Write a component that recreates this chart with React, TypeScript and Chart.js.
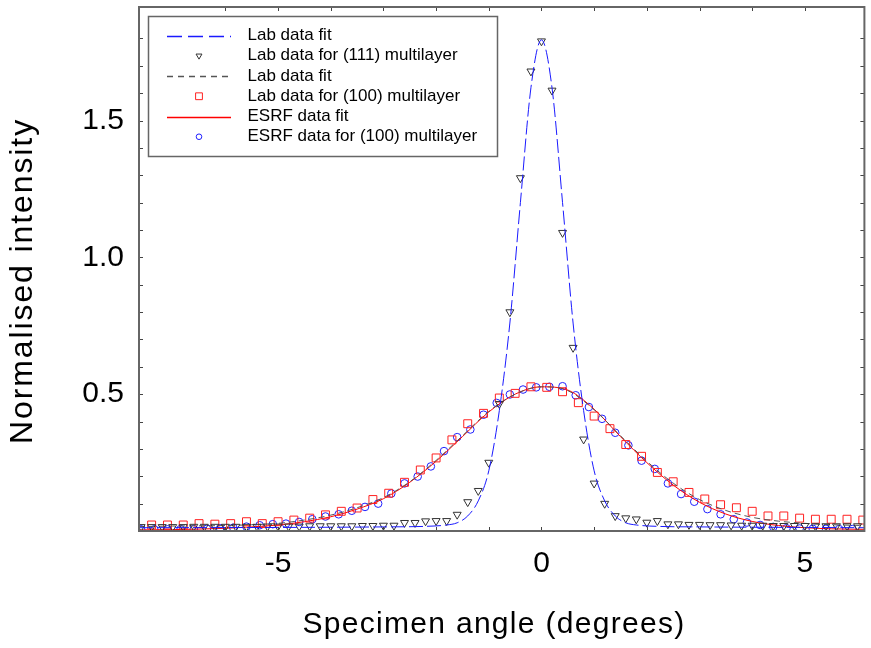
import React, { useEffect, useRef } from 'react';
import { Chart, registerables } from 'chart.js';

Chart.register(...registerables);

const FONT = '"Liberation Sans", Arial, Helvetica, sans-serif';

// Axis ranges and tick labels
const X_MIN = -7.64;
const X_MAX = 6.13;
const Y_MIN = 0;
const Y_MAX = 1.915;
const X_LABELED = [-5, 0, 5];
const Y_LABELED = ['0.5', '1.0', '1.5'];

const X_TITLE = 'Specimen angle (degrees)';
const Y_TITLE = 'Normalised intensity';

// Lab data for (111) multilayer (triangles)
const triX = [
  -7.6, -7.4, -7.2, -7.0, -6.8, -6.6, -6.4, -6.2, -6.0, -5.8, -5.6, -5.4, -5.2, -5.0,
  -4.8, -4.6, -4.4, -4.2, -4.0, -3.8, -3.6, -3.4, -3.2, -3.0, -2.8, -2.6, -2.4, -2.2,
  -2.0, -1.8, -1.6, -1.4, -1.2, -1.0, -0.8, -0.6, -0.4, -0.2, 0.0, 0.2, 0.4, 0.6,
  0.8, 1.0, 1.2, 1.4, 1.6, 1.8, 2.0, 2.2, 2.4, 2.6, 2.8, 3.0, 3.2, 3.4, 3.6, 3.8,
  4.0, 4.2, 4.4, 4.6, 4.8, 5.0, 5.2, 5.4, 5.6, 5.8, 6.0,
];
const triY = [
  0.015, 0.015, 0.015, 0.015, 0.015, 0.016, 0.016, 0.016, 0.016, 0.016, 0.016, 0.016, 0.017, 0.017,
  0.017, 0.017, 0.018, 0.018, 0.018, 0.018, 0.018, 0.019, 0.019, 0.02, 0.02, 0.03, 0.03, 0.036,
  0.037, 0.037, 0.06, 0.106, 0.147, 0.25, 0.465, 0.8, 1.29, 1.68, 1.79, 1.61, 1.09, 0.67,
  0.335, 0.174, 0.1, 0.055, 0.047, 0.043, 0.031, 0.037, 0.025, 0.025, 0.023, 0.023, 0.022, 0.022, 0.021, 0.02,
  0.02, 0.02, 0.019, 0.019, 0.019, 0.019, 0.018, 0.018, 0.018, 0.018, 0.018,
];

// Lab data for (100) multilayer (squares)
const sqX = [
  -7.4, -7.1, -6.8, -6.5, -6.2, -5.9, -5.6, -5.3, -5.0, -4.7, -4.4, -4.1, -3.8, -3.5,
  -3.2, -2.9, -2.6, -2.3, -2.0, -1.7, -1.4, -1.1, -0.8, -0.5, -0.2, 0.1, 0.4, 0.7,
  1.0, 1.3, 1.6, 1.9, 2.2, 2.5, 2.8, 3.1, 3.4, 3.7, 4.0, 4.3, 4.6, 4.9, 5.2, 5.5,
  5.8, 6.1,
];
const sqY = [
  0.022, 0.022, 0.022, 0.027, 0.025, 0.027, 0.034, 0.027, 0.034, 0.04, 0.047, 0.059, 0.072, 0.084,
  0.115, 0.138, 0.178, 0.223, 0.267, 0.333, 0.392, 0.43, 0.486, 0.503, 0.527, 0.525, 0.509, 0.469,
  0.42, 0.374, 0.316, 0.273, 0.214, 0.18, 0.141, 0.117, 0.096, 0.085, 0.072, 0.055, 0.055, 0.047, 0.043, 0.043,
  0.043, 0.04,
];

// ESRF data for (100) multilayer (circles)
const ciX = [
  -7.6, -7.35, -7.1, -6.85, -6.6, -6.35, -6.1, -5.85, -5.6, -5.35, -5.1, -4.85, -4.6, -4.35,
  -4.1, -3.85, -3.6, -3.35, -3.1, -2.85, -2.6, -2.35, -2.1, -1.85, -1.6, -1.35, -1.1, -0.85,
  -0.6, -0.35, -0.1, 0.15, 0.4, 0.65, 0.9, 1.15, 1.4, 1.65, 1.9, 2.15, 2.4, 2.65,
  2.9, 3.15, 3.4, 3.65, 3.9, 4.15, 4.4, 4.65, 4.9, 5.15, 5.4, 5.65, 5.9,
];
const ciY = [
  0.006, 0.006, 0.006, 0.007, 0.007, 0.008, 0.01, 0.012, 0.016, 0.021, 0.025, 0.027, 0.033, 0.043,
  0.053, 0.061, 0.074, 0.088, 0.1, 0.137, 0.174, 0.199, 0.236, 0.292, 0.343, 0.371, 0.425, 0.468,
  0.499, 0.517, 0.525, 0.527, 0.529, 0.496, 0.453, 0.41, 0.359, 0.313, 0.257, 0.227, 0.174, 0.135,
  0.107, 0.08, 0.061, 0.043, 0.031, 0.022, 0.015, 0.01, 0.009, 0.008, 0.008, 0.007, 0.007,
];

// Lab data fit for (111) (blue long-dashed)
const blueFitX = [
  -7.64, -5, -3, -2.2, -1.8, -1.6, -1.4, -1.2, -1.0, -0.8, -0.6, -0.4, -0.2, 0,
  0.2, 0.4, 0.6, 0.8, 1.0, 1.2, 1.4, 1.6, 1.8, 2.2, 3, 5, 6.13,
];
const blueFitY = [
  0.012, 0.013, 0.015, 0.017, 0.022, 0.03, 0.055, 0.11, 0.22, 0.44, 0.76, 1.2, 1.62, 1.795,
  1.62, 1.2, 0.76, 0.44, 0.22, 0.11, 0.055, 0.03, 0.022, 0.017, 0.015, 0.013, 0.012,
];

// Lab data fit for (100) (gray short-dashed)
const grayFitX = [
  -7.64, -7, -6, -5.5, -5, -4.5, -4, -3.5, -3, -2.5, -2, -1.5, -1, -0.5, 0,
  0.5, 1, 1.5, 2, 2.5, 3, 3.5, 4, 4.5, 5, 5.5, 6.13,
];
const grayFitY = [
  0.016, 0.018, 0.02, 0.023, 0.028, 0.04, 0.058, 0.085, 0.122, 0.18, 0.258, 0.348, 0.437, 0.5, 0.527,
  0.513, 0.443, 0.348, 0.255, 0.175, 0.115, 0.075, 0.05, 0.036, 0.028, 0.023, 0.02,
];

// ESRF data fit (red solid)
const redFitX = [
  -7.64, -7, -6.5, -6, -5.5, -5, -4.5, -4, -3.5, -3, -2.5, -2, -1.5, -1, -0.5, 0,
  0.5, 1, 1.5, 2, 2.5, 3, 3.5, 4, 4.5, 5, 5.5, 6.13,
];
const redFitY = [
  0.004, 0.005, 0.007, 0.01, 0.015, 0.022, 0.034, 0.052, 0.08, 0.118, 0.178, 0.255, 0.345, 0.435, 0.5, 0.527,
  0.515, 0.445, 0.345, 0.25, 0.168, 0.105, 0.062, 0.035, 0.02, 0.012, 0.008, 0.006,
];

const LABELS = [
  'Lab data fit',
  'Lab data for (111) multilayer',
  'Lab data fit',
  'Lab data for (100) multilayer',
  'ESRF data fit',
  'ESRF data for (100) multilayer',
];

const toPts = (xs: number[], ys: number[]) => xs.map((x, i) => ({ x, y: ys[i] }));

const near = (v: number, step: number) => Math.abs(v / step - Math.round(v / step)) < 1e-6;

const zeroPad = (s: any) => {
  s.paddingTop = 0;
  s.paddingBottom = 0;
  s.paddingLeft = 0;
  s.paddingRight = 0;
};

const decorPlugin = {
  id: 'decor',
  afterDraw(chart: any) {
    const ctx = chart.ctx as CanvasRenderingContext2D;
    const { left, right, top, bottom } = chart.chartArea;
    const xs = chart.scales.x;
    const ys = chart.scales.y;
    ctx.save();

    // inward tick marks on all four sides
    ctx.strokeStyle = '#444';
    ctx.lineWidth = 1;
    const TL = 4;
    ctx.beginPath();
    xs.ticks.forEach((t: any) => {
      if (!near(t.value, 1)) return;
      const px = Math.round(xs.getPixelForValue(t.value)) + 0.5;
      ctx.moveTo(px, bottom);
      ctx.lineTo(px, bottom - TL);
      ctx.moveTo(px, top);
      ctx.lineTo(px, top + TL);
    });
    ys.ticks.forEach((t: any) => {
      if (!near(t.value, 0.1) || t.value <= 0) return;
      const py = Math.round(ys.getPixelForValue(t.value)) + 0.5;
      ctx.moveTo(left, py);
      ctx.lineTo(left + TL, py);
      ctx.moveTo(right, py);
      ctx.lineTo(right - TL, py);
    });
    ctx.stroke();

    // frame
    ctx.strokeStyle = '#666';
    ctx.lineWidth = 2;
    ctx.strokeRect(left, top, right - left, bottom - top);

    // legend
    const bx = 148.5, by = 16.5, bw = 349, bh = 140;
    ctx.fillStyle = '#fff';
    ctx.fillRect(bx, by, bw, bh);
    ctx.strokeStyle = '#666';
    ctx.lineWidth = 1.5;
    ctx.strokeRect(bx, by, bw, bh);
    ctx.font = `17px ${FONT}`;
    ctx.textAlign = 'left';
    ctx.textBaseline = 'middle';
    const ds = chart.data.datasets;
    ds.forEach((d: any, i: number) => {
      const cy = 35.5 + i * 20.25;
      const sx0 = 167, sx1 = 231, mx = 199;
      if (d.showLine) {
        ctx.save();
        ctx.strokeStyle = d.borderColor;
        ctx.lineWidth = 1.3;
        ctx.setLineDash(d.legendDash || []);
        ctx.beginPath();
        ctx.moveTo(sx0, Math.round(cy) + 0.5);
        ctx.lineTo(sx1, Math.round(cy) + 0.5);
        ctx.stroke();
        ctx.restore();
      } else {
        ctx.save();
        ctx.strokeStyle = d.borderColor;
        ctx.lineWidth = 1;
        ctx.beginPath();
        if (d.pointStyle === 'triangle') {
          const r = 3.4;
          ctx.moveTo(mx - r * 0.87, cy - r * 0.5);
          ctx.lineTo(mx + r * 0.87, cy - r * 0.5);
          ctx.lineTo(mx, cy + r);
          ctx.closePath();
        } else if (d.pointStyle === 'rect') {
          ctx.rect(mx - 3.4, cy - 3.4, 6.8, 6.8);
        } else {
          ctx.arc(mx, cy, 2.8, 0, Math.PI * 2);
        }
        ctx.stroke();
        ctx.restore();
      }
      ctx.fillStyle = '#000';
      ctx.fillText(d.label, 247.5, cy);
    });

    // axis titles
    ctx.fillStyle = '#000';
    ctx.textAlign = 'center';
    ctx.textBaseline = 'alphabetic';
    ctx.font = `30px ${FONT}`;
    (ctx as any).letterSpacing = '1.3px';
    ctx.fillText(X_TITLE, 494, 633);
    ctx.save();
    ctx.translate(23, 281);
    ctx.rotate(-Math.PI / 2);
    ctx.textBaseline = 'middle';
    ctx.font = `32px ${FONT}`;
    (ctx as any).letterSpacing = '1.9px';
    ctx.fillText(Y_TITLE, 0, 0);
    ctx.restore();
    (ctx as any).letterSpacing = '0px';

    ctx.restore();
  },
};

export default function App() {
  const ref = useRef<HTMLCanvasElement>(null);

  useEffect(() => {
    if (!ref.current) return;
    const lineDs = (label: string, xs: number[], ys: number[], color: string, dash: number[], legendDash: number[]) => ({
      label,
      data: toPts(xs, ys),
      showLine: true,
      borderColor: color,
      backgroundColor: color,
      borderWidth: 1,
      borderDash: dash,
      legendDash,
      pointRadius: 0,
      pointHoverRadius: 0,
      cubicInterpolationMode: 'monotone',
      fill: false,
    });
    const markDs = (label: string, xs: number[], ys: number[], color: string, style: string, radius: number, rotation: number) => ({
      label,
      data: toPts(xs, ys),
      showLine: false,
      borderColor: color,
      backgroundColor: 'rgba(0,0,0,0)',
      pointStyle: style,
      pointRadius: radius,
      pointRotation: rotation,
      pointBorderWidth: 1,
      borderWidth: 1,
    });

    const chart = new Chart(ref.current, {
      type: 'scatter',
      data: {
        datasets: [
          lineDs(LABELS[0], blueFitX, blueFitY, '#1a1aff', [14, 4], [15, 6]),
          markDs(LABELS[1], triX, triY, '#333333', 'triangle', 4.6, 180),
          lineDs(LABELS[2], grayFitX, grayFitY, '#555555', [6, 4], [6, 5]),
          markDs(LABELS[3], sqX, sqY, '#ff2020', 'rect', 5.6, 0),
          lineDs(LABELS[4], redFitX, redFitY, '#ff0000', [], []),
          markDs(LABELS[5], ciX, ciY, '#2020ff', 'circle', 3.8, 0),
        ] as any,
      },
      options: {
        responsive: false,
        animation: false,
        events: [],
        layout: { padding: { top: 7, right: 5, left: 0, bottom: 0 } },
        plugins: {
          legend: { display: false },
          tooltip: { enabled: false },
          title: { display: false },
        },
        scales: {
          x: {
            type: 'linear',
            min: X_MIN,
            max: X_MAX,
            grid: { display: false, drawTicks: false },
            border: { display: false },
            ticks: {
              stepSize: 1,
              autoSkip: false,
              maxRotation: 0,
              padding: 15,
              color: '#000',
              font: { family: FONT, size: 30 },
              callback: (v: any) => {
                const n = Number(v);
                const hit = X_LABELED.find((t) => Math.abs(t - n) < 1e-6);
                return hit === undefined ? '' : String(hit);
              },
            },
            afterFit: (s: any) => {
              s.height = 117;
              zeroPad(s);
            },
          },
          y: {
            type: 'linear',
            min: Y_MIN,
            max: Y_MAX,
            grid: { display: false, drawTicks: false },
            border: { display: false },
            ticks: {
              stepSize: 0.1,
              autoSkip: false,
              padding: 15,
              color: '#000',
              font: { family: FONT, size: 30 },
              callback: (v: any) => {
                const s = Number(v).toFixed(1);
                return near(Number(v), 0.1) && Y_LABELED.includes(s) ? s : '';
              },
            },
            afterFit: (s: any) => {
              s.width = 139;
              zeroPad(s);
            },
          },
        },
      } as any,
      plugins: [decorPlugin],
    });
    return () => chart.destroy();
  }, []);

  return (
    <div style={{ position: 'absolute', left: 0, top: 0, width: 871, height: 648, background: '#fff' }}>
      <canvas ref={ref} width={871} height={648} style={{ display: 'block', width: 871, height: 648 }} />
    </div>
  );
}
